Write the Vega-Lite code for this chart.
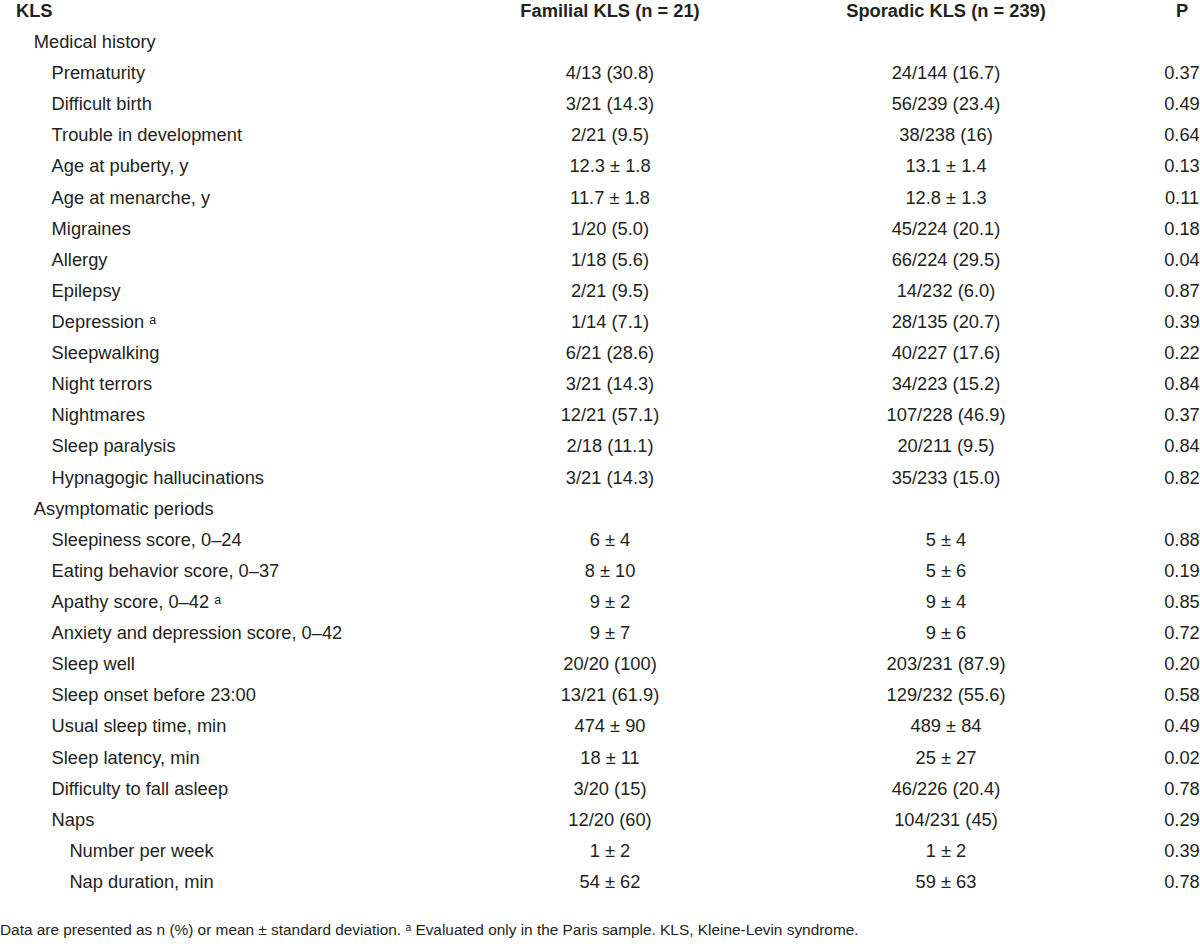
{
  "$schema": "https://vega.github.io/schema/vega-lite/v6.json",
  "width": 1200,
  "height": 944,
  "autosize": {"type": "fit", "contains": "padding"},
  "padding": 0,
  "background": "white",
  "config": {
    "view": {"stroke": null},
    "text": {"font": "Liberation Sans", "fontSize": 18.3, "color": "#231f20", "baseline": "alphabetic"}
  },
  "datasets": {
    "rows": [
      {"row": 1, "level": 1, "label": "Medical history", "familial": "", "sporadic": "", "p": ""},
      {"row": 2, "level": 2, "label": "Prematurity", "familial": "4/13 (30.8)", "sporadic": "24/144 (16.7)", "p": "0.37"},
      {"row": 3, "level": 2, "label": "Difficult birth", "familial": "3/21 (14.3)", "sporadic": "56/239 (23.4)", "p": "0.49"},
      {"row": 4, "level": 2, "label": "Trouble in development", "familial": "2/21 (9.5)", "sporadic": "38/238 (16)", "p": "0.64"},
      {"row": 5, "level": 2, "label": "Age at puberty, y", "familial": "12.3 ± 1.8", "sporadic": "13.1 ± 1.4", "p": "0.13"},
      {"row": 6, "level": 2, "label": "Age at menarche, y", "familial": "11.7 ± 1.8", "sporadic": "12.8 ± 1.3", "p": "0.11"},
      {"row": 7, "level": 2, "label": "Migraines", "familial": "1/20 (5.0)", "sporadic": "45/224 (20.1)", "p": "0.18"},
      {"row": 8, "level": 2, "label": "Allergy", "familial": "1/18 (5.6)", "sporadic": "66/224 (29.5)", "p": "0.04"},
      {"row": 9, "level": 2, "label": "Epilepsy", "familial": "2/21 (9.5)", "sporadic": "14/232 (6.0)", "p": "0.87"},
      {"row": 10, "level": 2, "label": "Depression ᵃ", "familial": "1/14 (7.1)", "sporadic": "28/135 (20.7)", "p": "0.39"},
      {"row": 11, "level": 2, "label": "Sleepwalking", "familial": "6/21 (28.6)", "sporadic": "40/227 (17.6)", "p": "0.22"},
      {"row": 12, "level": 2, "label": "Night terrors", "familial": "3/21 (14.3)", "sporadic": "34/223 (15.2)", "p": "0.84"},
      {"row": 13, "level": 2, "label": "Nightmares", "familial": "12/21 (57.1)", "sporadic": "107/228 (46.9)", "p": "0.37"},
      {"row": 14, "level": 2, "label": "Sleep paralysis", "familial": "2/18 (11.1)", "sporadic": "20/211 (9.5)", "p": "0.84"},
      {"row": 15, "level": 2, "label": "Hypnagogic hallucinations", "familial": "3/21 (14.3)", "sporadic": "35/233 (15.0)", "p": "0.82"},
      {"row": 16, "level": 1, "label": "Asymptomatic periods", "familial": "", "sporadic": "", "p": ""},
      {"row": 17, "level": 2, "label": "Sleepiness score, 0–24", "familial": "6 ± 4", "sporadic": "5 ± 4", "p": "0.88"},
      {"row": 18, "level": 2, "label": "Eating behavior score, 0–37", "familial": "8 ± 10", "sporadic": "5 ± 6", "p": "0.19"},
      {"row": 19, "level": 2, "label": "Apathy score, 0–42 ᵃ", "familial": "9 ± 2", "sporadic": "9 ± 4", "p": "0.85"},
      {"row": 20, "level": 2, "label": "Anxiety and depression score, 0–42", "familial": "9 ± 7", "sporadic": "9 ± 6", "p": "0.72"},
      {"row": 21, "level": 2, "label": "Sleep well", "familial": "20/20 (100)", "sporadic": "203/231 (87.9)", "p": "0.20"},
      {"row": 22, "level": 2, "label": "Sleep onset before 23:00", "familial": "13/21 (61.9)", "sporadic": "129/232 (55.6)", "p": "0.58"},
      {"row": 23, "level": 2, "label": "Usual sleep time, min", "familial": "474 ± 90", "sporadic": "489 ± 84", "p": "0.49"},
      {"row": 24, "level": 2, "label": "Sleep latency, min", "familial": "18 ± 11", "sporadic": "25 ± 27", "p": "0.02"},
      {"row": 25, "level": 2, "label": "Difficulty to fall asleep", "familial": "3/20 (15)", "sporadic": "46/226 (20.4)", "p": "0.78"},
      {"row": 26, "level": 2, "label": "Naps", "familial": "12/20 (60)", "sporadic": "104/231 (45)", "p": "0.29"},
      {"row": 27, "level": 3, "label": "Number per week", "familial": "1 ± 2", "sporadic": "1 ± 2", "p": "0.39"},
      {"row": 28, "level": 3, "label": "Nap duration, min", "familial": "54 ± 62", "sporadic": "59 ± 63", "p": "0.78"}
    ],
    "header": [
      {"row": 0, "col": 0, "text": "KLS"},
      {"row": 0, "col": 4, "text": "Familial KLS (n = 21)"},
      {"row": 0, "col": 5, "text": "Sporadic KLS (n = 239)"},
      {"row": 0, "col": 6, "text": "P"}
    ],
    "notes": [
      {"row": 29.5, "col": -1, "text": "Data are presented as n (%) or mean ± standard deviation. ᵃ Evaluated only in the Paris sample. KLS, Kleine-Levin syndrome."}
    ]
  },
  "encoding": {
    "y": {"field": "row", "type": "quantitative", "axis": null,
          "scale": {"domain": [0, 28], "range": [16.9, 888], "nice": false, "zero": false}}
  },
  "layer": [
    {
      "data": {"name": "rows"},
      "mark": {"type": "text", "align": "left"},
      "encoding": {
        "x": {"field": "level", "type": "quantitative", "axis": null,
              "scale": {"domain": [-1, 0, 1, 2, 3, 4, 5, 6], "range": [0, 16, 33.8, 51.6, 69.4, 610, 946, 1182], "nice": false, "zero": false}},
        "text": {"field": "label"}
      }
    },
    {
      "data": {"name": "rows"},
      "mark": {"type": "text", "align": "center"},
      "encoding": {
        "x": {"datum": 4, "type": "quantitative", "axis": null},
        "text": {"field": "familial"}
      }
    },
    {
      "data": {"name": "rows"},
      "mark": {"type": "text", "align": "center"},
      "encoding": {
        "x": {"datum": 5, "type": "quantitative", "axis": null},
        "text": {"field": "sporadic"}
      }
    },
    {
      "data": {"name": "rows"},
      "mark": {"type": "text", "align": "center"},
      "encoding": {
        "x": {"datum": 6, "type": "quantitative", "axis": null},
        "text": {"field": "p"}
      }
    },
    {
      "data": {"name": "header"},
      "transform": [{"filter": "datum.col == 0"}],
      "mark": {"type": "text", "align": "left", "fontWeight": "bold"},
      "encoding": {
        "x": {"field": "col", "type": "quantitative", "axis": null},
        "text": {"field": "text"}
      }
    },
    {
      "data": {"name": "header"},
      "transform": [{"filter": "datum.col > 0"}],
      "mark": {"type": "text", "align": "center", "fontWeight": "bold"},
      "encoding": {
        "x": {"field": "col", "type": "quantitative", "axis": null},
        "text": {"field": "text"}
      }
    },
    {
      "data": {"name": "notes"},
      "mark": {"type": "text", "align": "left", "fontSize": 15.4},
      "encoding": {
        "x": {"field": "col", "type": "quantitative", "axis": null},
        "text": {"field": "text"}
      }
    }
  ]
}
